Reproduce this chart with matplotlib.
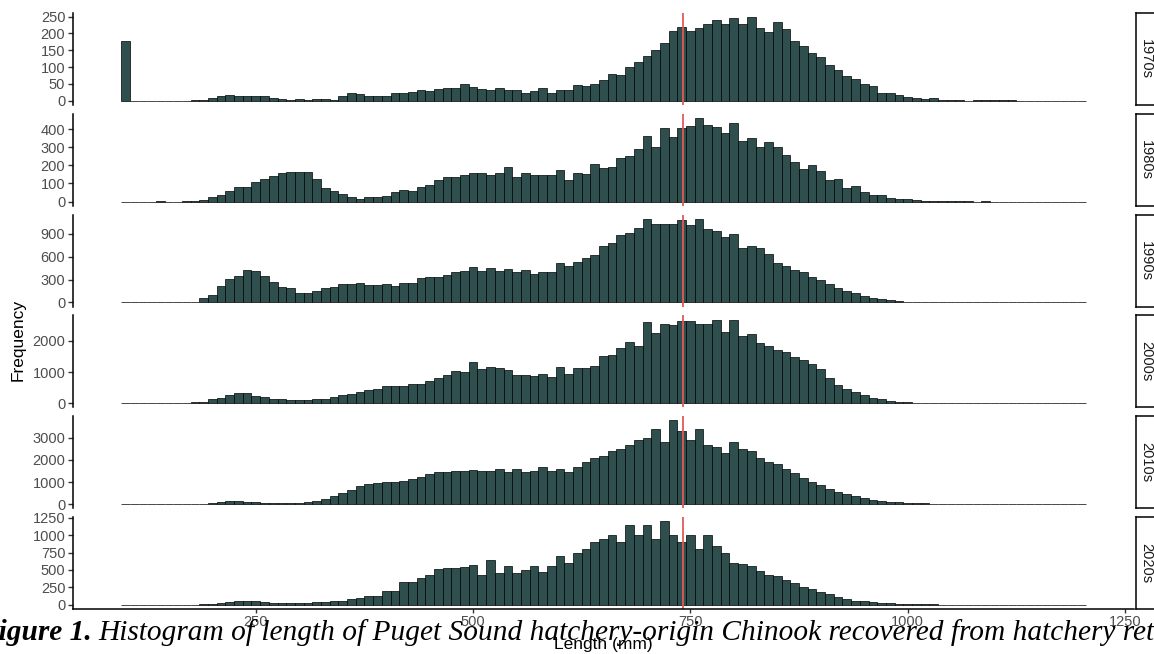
import numpy as np
import matplotlib
matplotlib.use("Agg")
import matplotlib.pyplot as plt

plt.rcParams["font.family"] = ["Liberation Sans", "DejaVu Sans"]

# bin centres of the 10 mm length bins
bin_centers = np.arange(100, 1201, 10)

decades = ["1970s", "1980s", "1990s", "2000s", "2010s", "2020s"]

len_1970s = [178, 0, 0, 0, 0, 0, 0, 0, 1,
             2, 8, 15, 18, 15, 13, 13, 15, 7, 5, 3, 5, 1, 4, 4, 3, 14, 23, 20, 13, 14,
             15, 23, 22, 27, 31, 30, 34, 39, 39, 49, 42, 34, 31, 37, 32, 32, 23, 28, 37, 22,
             32, 33, 48, 43, 50, 63, 81, 76, 101, 114, 133, 150, 171, 207, 220, 207, 215, 229,
             239, 229, 247, 227, 248, 217, 205, 234,
             214, 178, 163, 143, 130, 107, 92, 75, 64, 51, 45, 23, 23, 16, 10, 7, 4, 9, 3, 3,
             1, 0, 2, 1, 3, 1, 1, 0, 0, 0, 0, 0, 0, 0, 0]
len_1980s = [0, 0, 0, 0, 1, 0, 0, 1, 2,
             9, 24, 39, 57, 83, 83, 109, 122, 142, 155, 166, 164, 164, 122, 77, 61, 44, 24,
             13, 26, 24,
             33, 51, 66, 59, 81, 94, 120, 134, 134, 144, 160, 155, 147, 158, 193, 134, 160,
             147, 147, 149, 175, 120, 160, 151, 206, 186, 190, 243, 254, 289, 361, 299, 404,
             354, 405, 415, 461, 422, 411, 378, 433, 332, 348, 300, 331, 299,
             258, 217, 182, 201, 170, 118, 125, 74, 88, 55, 39, 37, 22, 17, 17, 7, 4, 2, 1, 2,
             1, 1, 0, 1, 0, 0, 0, 0, 0, 0, 0, 0, 0, 0, 0]
len_1990s = [0, 0, 0, 2, 5, 8, 4, 3, 6,
             52, 100, 209, 309, 352, 430, 417, 343, 270, 204, 191, 122, 122, 152, 191, 204,
             239, 239, 252, 222, 222,
             241, 219, 257, 252, 317, 339, 339, 361, 400, 413, 465, 409, 457, 409, 439, 396,
             422, 370, 400, 404, 517, 483, 526, 583, 617, 735, 778, 878, 913, 974, 1087, 1026,
             1030, 1030, 1083, 1013, 1096, 961, 935, 861, 896, 717, 743, 709, 635, 522,
             480, 420, 400, 330, 300, 240, 190, 150, 120, 90, 60, 45, 30, 20, 12, 8, 5, 3, 2, 2,
             1, 1, 1, 0, 1, 0, 0, 0, 0, 0, 0, 0, 0, 0, 0]
len_2000s = [0, 0, 5, 10, 15, 20, 10, 15, 25,
             53, 128, 160, 257, 342, 332, 225, 193, 139, 139, 96, 96, 96, 139, 139, 193, 257,
             300, 375, 428, 471,
             546, 567, 556, 610, 620, 717, 813, 899, 1038, 1006, 1338, 1091, 1177, 1124, 1070,
             910, 899, 877, 942, 856, 1177, 931, 1134, 1145, 1209, 1530, 1562, 1776, 1980,
             1851, 2600, 2247, 2557, 2515, 2643, 2643, 2536, 2536, 2686, 2300, 2675, 2151,
             2226, 1937, 1830, 1723,
             1650, 1500, 1400, 1250, 1100, 800, 600, 450, 350, 250, 180, 120, 80, 50, 30, 20,
             12, 10, 8, 6, 5, 4, 3, 3, 2, 2, 2, 1, 1, 1, 1, 0, 0, 1, 0]
len_2010s = [0, 0, 0, 0, 0, 5, 5, 10, 10,
             20, 50, 80, 120, 130, 110, 80, 50, 40, 40, 50, 60, 90, 150, 250, 350, 500, 650,
             800, 900, 950,
             1000, 1000, 1050, 1150, 1250, 1350, 1450, 1450, 1500, 1500, 1550, 1500, 1500,
             1600, 1450, 1600, 1450, 1500, 1700, 1500, 1600, 1450, 1700, 1900, 2100, 2200,
             2400, 2500, 2700, 2900, 3000, 3400, 2800, 3800, 3300, 2900, 3400, 2700, 2600,
             2300, 2800, 2500, 2400, 2100, 1900, 1800,
             1600, 1400, 1200, 1000, 850, 700, 550, 450, 350, 270, 200, 150, 110, 80, 55, 40,
             30, 20, 15, 10, 8, 6, 5, 4, 3, 2, 2, 1, 1, 1, 0, 1, 0, 0, 0]
len_2020s = [0, 0, 0, 0, 0, 1, 2, 2, 3,
             5, 10, 20, 40, 55, 60, 50, 40, 25, 20, 20, 20, 25, 35, 45, 50, 50, 80, 100, 120,
             130,
             200, 200, 330, 330, 380, 430, 520, 530, 530, 540, 570, 430, 650, 450, 550, 450,
             500, 550, 470, 560, 700, 600, 750, 800, 900, 950, 1000, 900, 1150, 1000, 1150,
             950, 1200, 1000, 900, 1000, 800, 1000, 850, 750, 600, 580, 550, 480, 430, 420,
             350, 320, 250, 220, 180, 150, 110, 90, 60, 50, 35, 25, 20, 15, 10, 8, 6, 5, 4, 3,
             3, 2, 2, 1, 1, 1, 1, 0, 1, 0, 0, 0, 0, 0, 0]

counts = [len_1970s, len_1980s, len_1990s, len_2000s, len_2010s, len_2020s]

y_breaks = [[0, 50, 100, 150, 200, 250],
            [0, 100, 200, 300, 400],
            [0, 300, 600, 900],
            [0, 1000, 2000],
            [0, 1000, 2000, 3000],
            [0, 250, 500, 750, 1000, 1250]]
x_breaks = [250, 500, 750, 1000, 1250]

mean_length = 741

W, H = 1154, 654
fig = plt.figure(figsize=(W / 100, H / 100), dpi=100)

left_px, right_px = 72.9, 1134
top_px, panel_h, step = 13, 92, 100.8
xlo = bin_centers[0] - 5
xhi = bin_centers[-1] + 5
pad = 0.05 * (xhi - xlo)

for k, (dec, c) in enumerate(zip(decades, counts)):
    top = top_px + k * step
    ax = fig.add_axes([left_px / W, 1 - (top + panel_h) / H,
                       (right_px - left_px) / W, panel_h / H])
    ax.bar(bin_centers, c, width=10, color="#2F4F4F", edgecolor="black",
           linewidth=0.5)
    ax.axvline(mean_length, color="#e05a5a", lw=1.3)
    m = max(c)
    ax.set_ylim(-0.05 * m, 1.05 * m)
    ax.set_xlim(xlo - pad, xhi + pad)
    ax.set_yticks(y_breaks[k])
    ax.tick_params(axis="y", labelsize=10.5, labelcolor="#4D4D4D", color="#333333",
                   length=3.5, width=1, pad=2)
    for s in ["top", "right"]:
        ax.spines[s].set_visible(False)
    ax.spines["left"].set_linewidth(1.1)
    if k < len(decades) - 1:
        ax.spines["bottom"].set_visible(False)
        ax.set_xticks([])
    else:
        ax.spines["bottom"].set_linewidth(1.1)
        ax.set_xticks(x_breaks)
        ax.tick_params(axis="x", labelsize=10.5, labelcolor="#4D4D4D", color="#333333",
                       length=3, width=1, pad=1)

    # facet strip on the right
    sax = fig.add_axes([1135.5 / W, 1 - (top + panel_h) / H, 26 / W, panel_h / H])
    sax.set_xticks([])
    sax.set_yticks([])
    for s in sax.spines.values():
        s.set_linewidth(1.1)
    fig.text(1146 / W, 1 - (top + panel_h / 2) / H, dec, rotation=270,
             ha="center", va="center", fontsize=10.5, color="#1A1A1A")

fig.text(18 / W, 1 - 340 / H, "Frequency", rotation=90, ha="center", va="center",
         fontsize=12.5)
fig.text(603 / W, 1 - 645 / H, "Length (mm)", ha="center", va="center", fontsize=12.5)

# caption below the figure
cap_y = 1 - 640 / H
t1 = fig.text(-21 / W, cap_y, "Figure 1.", family="Liberation Serif",
              weight="bold", style="italic", fontsize=21.2, va="baseline")
fig.canvas.draw()
bb = t1.get_window_extent(fig.canvas.get_renderer())
fig.text(bb.x1 / W + 7 / W, cap_y,
         "Histogram of length of Puget Sound hatchery-origin Chinook recovered from hatchery returns",
         family="Liberation Serif", style="italic", fontsize=21.2, va="baseline")

fig.savefig("out.png", dpi=100)
